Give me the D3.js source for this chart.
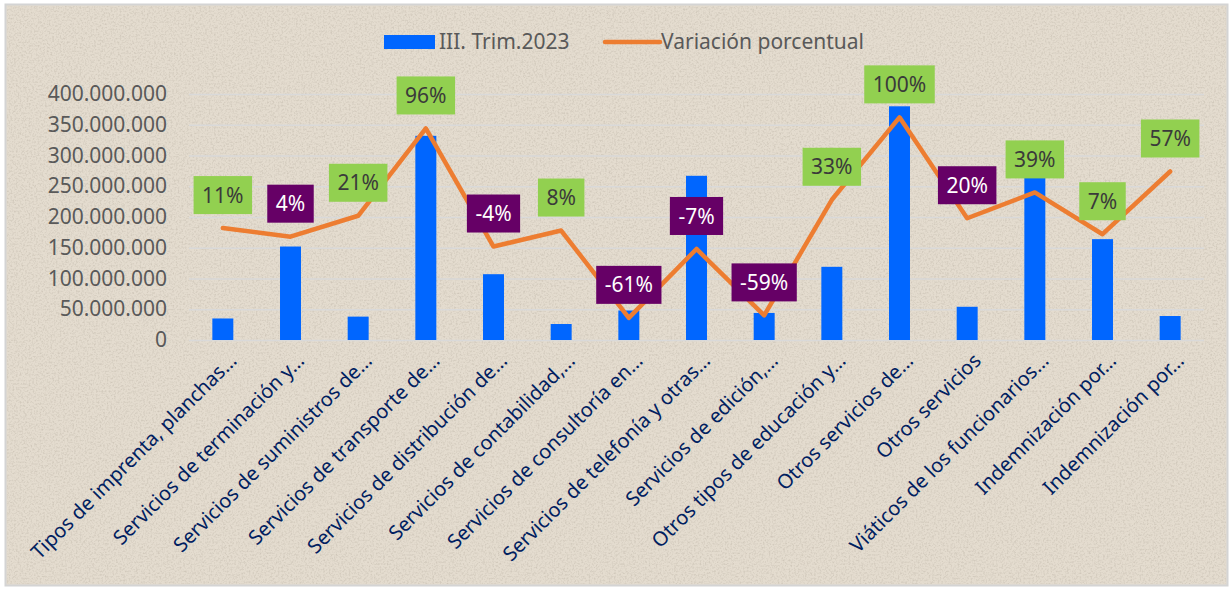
<!DOCTYPE html>
<html>
<head>
<meta charset="utf-8">
<script src="https://cdn.jsdelivr.net/npm/d3@7"></script>
<style>
  html, body { margin: 0; padding: 0; background: #ffffff; }
  svg { display: block; }
</style>
</head>
<body>
<div id="chart"></div>
<script>
// categories (as shown, truncated)
const categories = [
  "Tipos de imprenta, planchas…",
  "Servicios de terminación y…",
  "Servicios de suministros de…",
  "Servicios de transporte de…",
  "Servicios de distribución de…",
  "Servicios de contabilidad,…",
  "Servicios de consultoría en…",
  "Servicios de telefonía y otras…",
  "Servicios de edición,…",
  "Otros tipos de educación y…",
  "Otros servicios de…",
  "Otros servicios",
  "Viáticos de los funcionarios…",
  "Indemnización por…",
  "Indemnización por…"
];

// III. Trim.2023 amounts
const trim2023 = [35e6, 152e6, 38e6, 332e6, 107e6, 26e6, 48e6, 267e6, 44e6, 119e6, 380e6, 54e6, 265e6, 164e6, 39e6];

// Variación porcentual (line) and its data labels
const variacion = [0.11, 0.04, 0.21, 0.92, -0.04, 0.09, -0.62, -0.06, -0.60, 0.34, 1.01, 0.19, 0.40, 0.06, 0.57];
const variacionLabels = ["11%", "4%", "21%", "96%", "-4%", "8%", "-61%", "-7%", "-59%", "33%", "100%", "20%", "39%", "7%", "57%"];

const yTicks = [0, 50e6, 100e6, 150e6, 200e6, 250e6, 300e6, 350e6, 400e6];
const seriesNames = ["III. Trim.2023", "Variación porcentual"];

const width = 1230, height = 589;
const margin = { top: 94, right: 26, bottom: 249, left: 189 };
const innerWidth = width - margin.left - margin.right;
const innerHeight = height - margin.top - margin.bottom;
const font = 'Noto Sans, sans-serif';

const svg = d3.select('#chart')
  .append('svg')
  .attr('width', width)
  .attr('height', height);

// paper texture
const defs = svg.append('defs');
const f = defs.append('filter').attr('id', 'paper')
  .attr('x', 0).attr('y', 0).attr('width', '100%').attr('height', '100%');
f.append('feTurbulence').attr('type', 'fractalNoise')
  .attr('baseFrequency', 0.55).attr('numOctaves', 3).attr('seed', 7).attr('result', 'noise');
f.append('feColorMatrix').attr('in', 'noise').attr('type', 'matrix')
  .attr('values', '0 0 0 0 0.45  0 0 0 0 0.40  0 0 0 0 0.33  0 0 0 -2.2 1.25')
  .attr('result', 'dots');
f.append('feComposite').attr('in', 'dots').attr('in2', 'SourceGraphic').attr('operator', 'in');

svg.append('rect')
  .attr('x', 5.5).attr('y', 4.5)
  .attr('width', width - 8).attr('height', height - 8)
  .attr('fill', '#e4dccf')
  .attr('stroke', '#d4d4d4')
  .attr('stroke-width', 2);

svg.append('rect')
  .attr('x', 7).attr('y', 6)
  .attr('width', width - 11).attr('height', height - 11)
  .attr('fill', '#e4dccf')
  .attr('filter', 'url(#paper)')
  .attr('opacity', 0.4);

const g = svg.append('g')
  .attr('transform', `translate(${margin.left},${margin.top})`);

// scales
const x = d3.scaleBand()
  .domain(d3.range(categories.length))
  .range([0, innerWidth]);

const y = d3.scaleLinear()
  .domain([0, 400e6])
  .range([innerHeight, 0]);

// secondary (hidden) axis for the percentage line
const y2 = d3.scaleLinear()
  .domain([-0.8, 1.2])
  .range([innerHeight, 0]);

const locale = d3.formatLocale({ decimal: ",", thousands: ".", grouping: [3], currency: ["", ""] });
const fmt = locale.format(",");

// gridlines
g.append('g')
  .attr('class', 'grid')
  .call(d3.axisLeft(y).tickValues(yTicks).tickSize(-innerWidth).tickFormat(''))
  .call(s => s.select('.domain').remove())
  .call(s => s.selectAll('text').remove())
  .call(s => s.selectAll('line').attr('stroke', '#d9d9d9').attr('stroke-width', 1.3));

// y axis labels
g.append('g')
  .attr('class', 'y-axis')
  .call(d3.axisLeft(y).tickValues(yTicks).tickSize(0).tickPadding(22).tickFormat(fmt))
  .attr('fill', '#595959')
  .call(s => s.select('.domain').remove())
  .call(s => s.selectAll('line').remove())
  .call(s => s.selectAll('text')
    .attr('fill', '#595959')
    .attr('font-family', font)
    .attr('font-size', 21)
    .attr('text-anchor', 'end'));

// bars
const barW = x.bandwidth() * 0.31;
g.selectAll('.bar')
  .data(trim2023)
  .join('rect')
  .attr('class', 'bar')
  .attr('x', (d, i) => x(i) + x.bandwidth() / 2 - barW / 2)
  .attr('y', d => y(d))
  .attr('width', barW)
  .attr('height', d => y(0) - y(d))
  .attr('fill', '#0066ff');

// line
const line = d3.line()
  .x((d, i) => x(i) + x.bandwidth() / 2)
  .y(d => y2(d));

g.append('path')
  .datum(variacion)
  .attr('fill', 'none')
  .attr('stroke', '#ed7d31')
  .attr('stroke-width', 4.5)
  .attr('stroke-linejoin', 'round')
  .attr('stroke-linecap', 'round')
  .attr('d', line);

// data labels (purple for the highlighted ones)
const purple = [1, 4, 6, 7, 8, 11];
const lbl = g.selectAll('.lbl')
  .data(variacion)
  .join('g')
  .attr('class', 'lbl')
  .attr('transform', (d, i) => `translate(${x(i) + x.bandwidth() / 2},${y2(d) - 14})`);

lbl.each(function (d, i) {
  const sel = d3.select(this);
  const dark = purple.includes(i);
  const t = sel.append('text')
    .attr('text-anchor', 'middle')
    .attr('y', -19)
    .attr('dy', '0.36em')
    .attr('font-family', font)
    .attr('font-size', 21)
    .attr('fill', dark ? '#ffffff' : '#3a3a3a')
    .text(variacionLabels[i]);
  const w = t.node().getComputedTextLength() + 17;
  sel.insert('rect', 'text')
    .attr('x', -w / 2)
    .attr('y', -38)
    .attr('width', w)
    .attr('height', 38)
    .attr('fill', dark ? '#660066' : '#92d050');
});

// x axis labels
g.append('g')
  .attr('class', 'x-axis')
  .attr('transform', `translate(0,${innerHeight})`)
  .call(d3.axisBottom(x).tickSize(0).tickFormat(i => categories[i]))
  .attr('fill', '#002060')
  .call(s => s.select('.domain').remove())
  .call(s => s.selectAll('line').remove())
  .call(s => s.selectAll('text')
    .attr('fill', '#002060')
    .attr('font-family', font)
    .attr('font-size', 20)
    .attr('text-anchor', 'end')
    .attr('y', 0)
    .attr('dx', 0)
    .attr('dy', 0)
    .attr('transform', 'translate(15,22) rotate(-45)'));

// legend
const legend = svg.append('g')
  .attr('transform', 'translate(384,42)')
  .attr('font-family', font)
  .attr('font-size', 21)
  .attr('fill', '#595959');

legend.append('rect')
  .attr('x', 0).attr('y', -7)
  .attr('width', 51).attr('height', 14)
  .attr('fill', '#0066ff');
legend.append('text')
  .attr('x', 55).attr('dy', '0.35em')
  .text(seriesNames[0]);

legend.append('line')
  .attr('x1', 221).attr('x2', 276)
  .attr('stroke', '#ed7d31')
  .attr('stroke-width', 4.5)
  .attr('stroke-linecap', 'round');
legend.append('text')
  .attr('x', 277).attr('dy', '0.35em')
  .text(seriesNames[1]);
</script>
</body>
</html>
